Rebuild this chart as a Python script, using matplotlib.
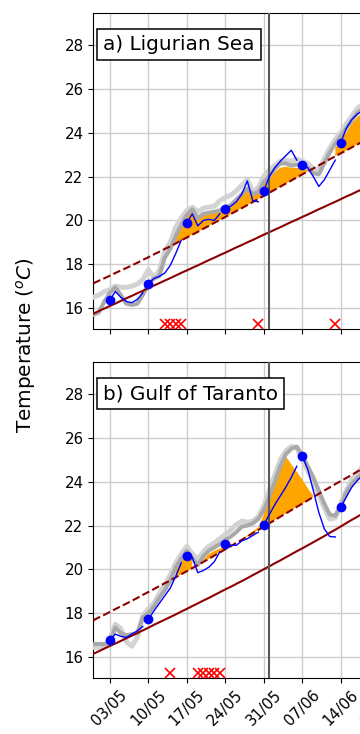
import numpy as np
import pandas as pd
import matplotlib
matplotlib.use('Agg')
import matplotlib.pyplot as plt

# ---------------- data ----------------
days = pd.date_range('2022-04-30', periods=51, freq='D')
tick_dates = pd.date_range('2022-05-03', periods=9, freq='7D')
tick_labels = [d.strftime('%d/%m') for d in tick_dates]
forecast_starts = pd.date_range('2022-05-03', periods=7, freq='7D')
event_line = pd.Timestamp('2022-06-01')
yticks = [16, 18, 20, 22, 24, 26, 28]

regions = ['a) Ligurian Sea', 'b) Gulf of Taranto']

clim_a = [15.75, 15.87, 15.98, 16.10, 16.21, 16.33, 16.45, 16.56, 16.68, 16.79,
          16.91, 17.03, 17.14, 17.26, 17.37, 17.49, 17.61, 17.72, 17.84, 17.95,
          18.07, 18.19, 18.30, 18.42, 18.53, 18.65, 18.77, 18.88, 19.00, 19.11,
          19.23, 19.35, 19.46, 19.58, 19.69, 19.81, 19.93, 20.04, 20.16, 20.27,
          20.39, 20.51, 20.62, 20.74, 20.85, 20.97, 21.09, 21.20, 21.32, 21.43,
          21.55]
thr_a = [17.13, 17.25, 17.36, 17.48, 17.60, 17.72, 17.83, 17.95, 18.07, 18.20,
         18.32, 18.45, 18.57, 18.70, 18.82, 18.95, 19.09, 19.22, 19.35, 19.48,
         19.62, 19.75, 19.89, 20.02, 20.16, 20.29, 20.43, 20.56, 20.70, 20.84,
         20.98, 21.12, 21.26, 21.40, 21.54, 21.68, 21.82, 21.96, 22.10, 22.23,
         22.37, 22.51, 22.65, 22.79, 22.92, 23.06, 23.19, 23.33, 23.46, 23.60,
         23.74]
sat1_a = [16.50, 16.60, 16.75, 16.85, 17.00, 16.95, 16.95, 17.00, 17.10, 17.30,
          17.75, 17.40, 17.70, 18.60, 19.00, 19.70, 20.10, 20.45, 20.60, 20.40,
          20.55, 20.60, 20.65, 20.90, 21.05, 21.15, 21.35, 21.60, 21.85, 21.30,
          21.50, 22.00, 22.30, 22.50, 22.70, 22.75, 22.70, 22.80, 22.70, 22.60,
          22.35, 22.30, 22.80, 23.30, 23.70, 24.00, 24.40, 24.75, 25.10, 25.30,
          25.50]
sat2_a = [15.70, 15.80, 16.30, 16.70, 16.95, 16.60, 16.20, 16.15, 16.20, 16.60,
          17.10, 17.35, 17.45, 18.30, 18.70, 19.30, 19.80, 20.25, 20.50, 20.10,
          20.30, 20.35, 20.40, 20.45, 20.60, 20.70, 20.95, 21.20, 21.45, 21.20,
          21.30, 21.75, 22.00, 22.35, 22.60, 22.60, 22.50, 22.55, 22.50, 22.40,
          22.15, 22.10, 22.60, 23.10, 23.50, 23.85, 24.20, 24.55, 24.90, 25.10,
          25.30]
mhw_a = [15.70, 15.80, 16.30, 16.70, 16.95, 16.60, 16.20, 16.15, 16.20, 16.60,
         17.10, 17.35, 17.45, 18.78, 19.20, 19.50, 19.85, 20.20, 20.45, 20.15,
         20.30, 20.35, 20.40, 20.50, 20.65, 20.75, 20.95, 21.20, 21.50, 21.20,
         21.30, 21.70, 21.95, 22.20, 22.40, 22.45, 22.40, 22.40, 22.35, 22.30,
         22.10, 22.00, 22.50, 22.75, 23.30, 23.70, 24.00, 24.40, 24.70, 24.95,
         25.15]
fc_a = [[16.38, 16.76, 16.50, 16.30, 16.25, 16.40, 16.70],
        [17.10, 17.35, 17.45, 17.60, 17.95, 18.50, 19.10],
        [19.88, 20.30, 19.75, 20.00, 20.05, 20.00, 20.30],
        [20.53, 20.65, 20.85, 21.20, 21.80, 20.90, 20.85],
        [21.35, 22.00, 22.40, 22.70, 22.95, 23.20, 22.75],
        [22.53, 22.40, 22.00, 21.55, 21.85, 22.30, 22.75],
        [23.55, 24.20, 24.60, 24.85, 25.00, 25.10, 25.20]]
events_a = ['2022-05-13', '2022-05-14', '2022-05-15', '2022-05-16',
            '2022-05-30', '2022-06-13']

clim_b = [16.15, 16.27, 16.39, 16.51, 16.62, 16.74, 16.86, 16.98, 17.10, 17.22,
          17.34, 17.47, 17.59, 17.71, 17.83, 17.95, 18.08, 18.20, 18.33, 18.45,
          18.58, 18.70, 18.83, 18.96, 19.09, 19.21, 19.34, 19.47, 19.60, 19.74,
          19.87, 20.01, 20.14, 20.28, 20.41, 20.55, 20.69, 20.83, 20.96, 21.10,
          21.24, 21.38, 21.52, 21.67, 21.81, 21.96, 22.11, 22.26, 22.40, 22.55,
          22.70]
thr_b = [17.68, 17.81, 17.93, 18.06, 18.19, 18.32, 18.44, 18.57, 18.70, 18.84,
         18.97, 19.10, 19.24, 19.37, 19.50, 19.64, 19.78, 19.92, 20.06, 20.20,
         20.34, 20.48, 20.63, 20.77, 20.92, 21.06, 21.21, 21.35, 21.50, 21.65,
         21.80, 21.95, 22.10, 22.25, 22.40, 22.55, 22.70, 22.85, 23.00, 23.15,
         23.30, 23.45, 23.60, 23.74, 23.89, 24.03, 24.17, 24.31, 24.46, 24.60,
         24.74]
sat1_b = [16.45, 16.45, 16.50, 16.80, 17.50, 17.30, 16.70, 16.50, 16.90, 17.90,
          18.20, 18.45, 18.90, 19.30, 19.75, 20.30, 20.70, 21.05, 20.70, 20.45,
          20.80, 21.05, 21.20, 21.40, 21.60, 21.80, 22.05, 22.20, 22.15, 22.20,
          22.40, 22.90, 23.60, 24.30, 25.00, 25.40, 25.60, 25.55, 25.00, 24.50,
          24.00, 23.40, 22.80, 22.30, 22.35, 23.00, 23.60, 24.10, 24.40, 24.70,
          24.90]
sat2_b = [16.60, 16.60, 16.60, 16.65, 17.35, 17.10, 17.00, 17.05, 17.10, 17.80,
          18.00, 18.30, 18.70, 19.05, 19.50, 20.10, 20.50, 20.85, 20.50, 20.20,
          20.60, 20.85, 21.00, 21.15, 21.35, 21.50, 21.70, 21.95, 22.00, 22.10,
          22.30, 22.70, 23.30, 24.00, 24.70, 25.25, 25.50, 25.60, 25.20, 24.70,
          24.20, 23.60, 23.00, 22.50, 22.45, 22.90, 23.50, 23.90, 24.15, 24.40,
          24.60]
mhw_b = [16.55, 16.55, 16.55, 16.70, 17.30, 17.05, 16.85, 16.80, 17.00, 17.80,
         18.05, 18.30, 18.65, 19.00, 19.40, 20.00, 20.40, 20.75, 20.40, 20.10,
         20.45, 20.70, 20.85, 20.95, 21.10, 21.15, 21.20, 21.40, 21.55, 21.75,
         21.90, 22.50, 23.20, 23.90, 24.60, 25.15, 24.80, 24.45, 24.10, 23.70,
         23.35, 22.90, 22.50, 22.20, 22.30, 22.80, 23.30, 23.70, 24.00, 24.30,
         24.50]
fc_b = [[16.76, 17.05, 16.95, 16.90, 17.05, 17.20, 17.40],
        [17.73, 18.10, 18.45, 18.80, 19.15, 19.70, 20.30],
        [20.59, 20.55, 19.85, 19.95, 20.10, 20.35, 20.80],
        [21.15, 21.10, 21.10, 21.30, 21.40, 21.55, 21.70],
        [22.03, 22.50, 22.95, 23.35, 23.75, 24.20, 24.70],
        [25.18, 24.55, 23.60, 22.60, 21.85, 21.50, 21.48],
        [22.84, 23.30, 23.75, 24.05, 24.30, 24.50, 24.60]]
events_b = ['2022-05-14', '2022-05-19', '2022-05-20', '2022-05-21',
            '2022-05-22', '2022-05-23']

panels = [
    (regions[0], clim_a, thr_a, sat1_a, sat2_a, mhw_a, fc_a, events_a),
    (regions[1], clim_b, thr_b, sat1_b, sat2_b, mhw_b, fc_b, events_b),
]

# ---------------- figure ----------------
W, H = 360, 734
fig = plt.figure(figsize=(W / 100, H / 100), dpi=100)
left_px = 93.3
px_per_day = 5.5
span_days = 60
vpos = [(12.7, 329.0), (361.7, 678.0)]
x0 = pd.Timestamp('2022-04-30')
x1 = x0 + pd.Timedelta(days=span_days)

axes = []
for i, (name, clim, thr, s1, s2, mhw, fc, ev) in enumerate(panels):
    top, bot = vpos[i]
    ax = fig.add_axes([left_px / W, 1 - bot / H, span_days * px_per_day / W, (bot - top) / H])
    axes.append(ax)
    ax.set_axisbelow(True)
    ax.grid(True, color='0.8', lw=1.0)

    thr_arr = np.array(thr)
    mhw_arr = np.array(mhw)
    ax.fill_between(days, thr_arr, mhw_arr, where=mhw_arr > thr_arr,
                    color='orange', lw=0, zorder=2)
    ax.plot(days, s1, color='lightgray', lw=3.6, zorder=3)
    ax.plot(days, s2, color='darkgray', lw=2.9, zorder=3)
    ax.plot(days, clim, color='darkred', lw=1.5, zorder=4)
    ax.plot(days, thr, color='darkred', lw=1.5, ls='--', zorder=4)
    for start, seg in zip(forecast_starts, fc):
        seg_days = pd.date_range(start, periods=len(seg), freq='D')
        ax.plot(seg_days, seg, color='blue', lw=1.0, zorder=5)
    ax.plot(forecast_starts, [s[0] for s in fc], 'o', color='blue', ms=6, zorder=6)
    ev_dates = pd.to_datetime(ev)
    ax.plot(ev_dates, [15.3] * len(ev_dates), 'x', color='red', ms=7, mew=1.2,
            zorder=6, clip_on=False)
    ax.axvline(event_line, color='0.35', lw=1.5, zorder=4)

    ax.set_xlim(x0, x1)
    ax.set_ylim(15.05, 29.47)
    ax.set_yticks(yticks)
    ax.set_xticks(tick_dates)
    ax.tick_params(labelsize=10.8)
    ax.annotate(name, xy=(0, 28), xycoords=ax.get_yaxis_transform(),
                xytext=(10, 0), textcoords='offset pixels',
                ha='left', va='center', fontsize=14.4, zorder=10,
                bbox=dict(boxstyle='square,pad=0.3', fc='white', ec='black', lw=1.1))

axes[0].tick_params(labelbottom=False)
axes[1].set_xticklabels(tick_labels, rotation=45, ha='center')

fig.text(25.8 / W, 1 - 345.4 / H, 'Temperature ($^oC$)', rotation=90,
         va='center', ha='center', fontsize=14.4)

fig.savefig('out.png', dpi=100)
